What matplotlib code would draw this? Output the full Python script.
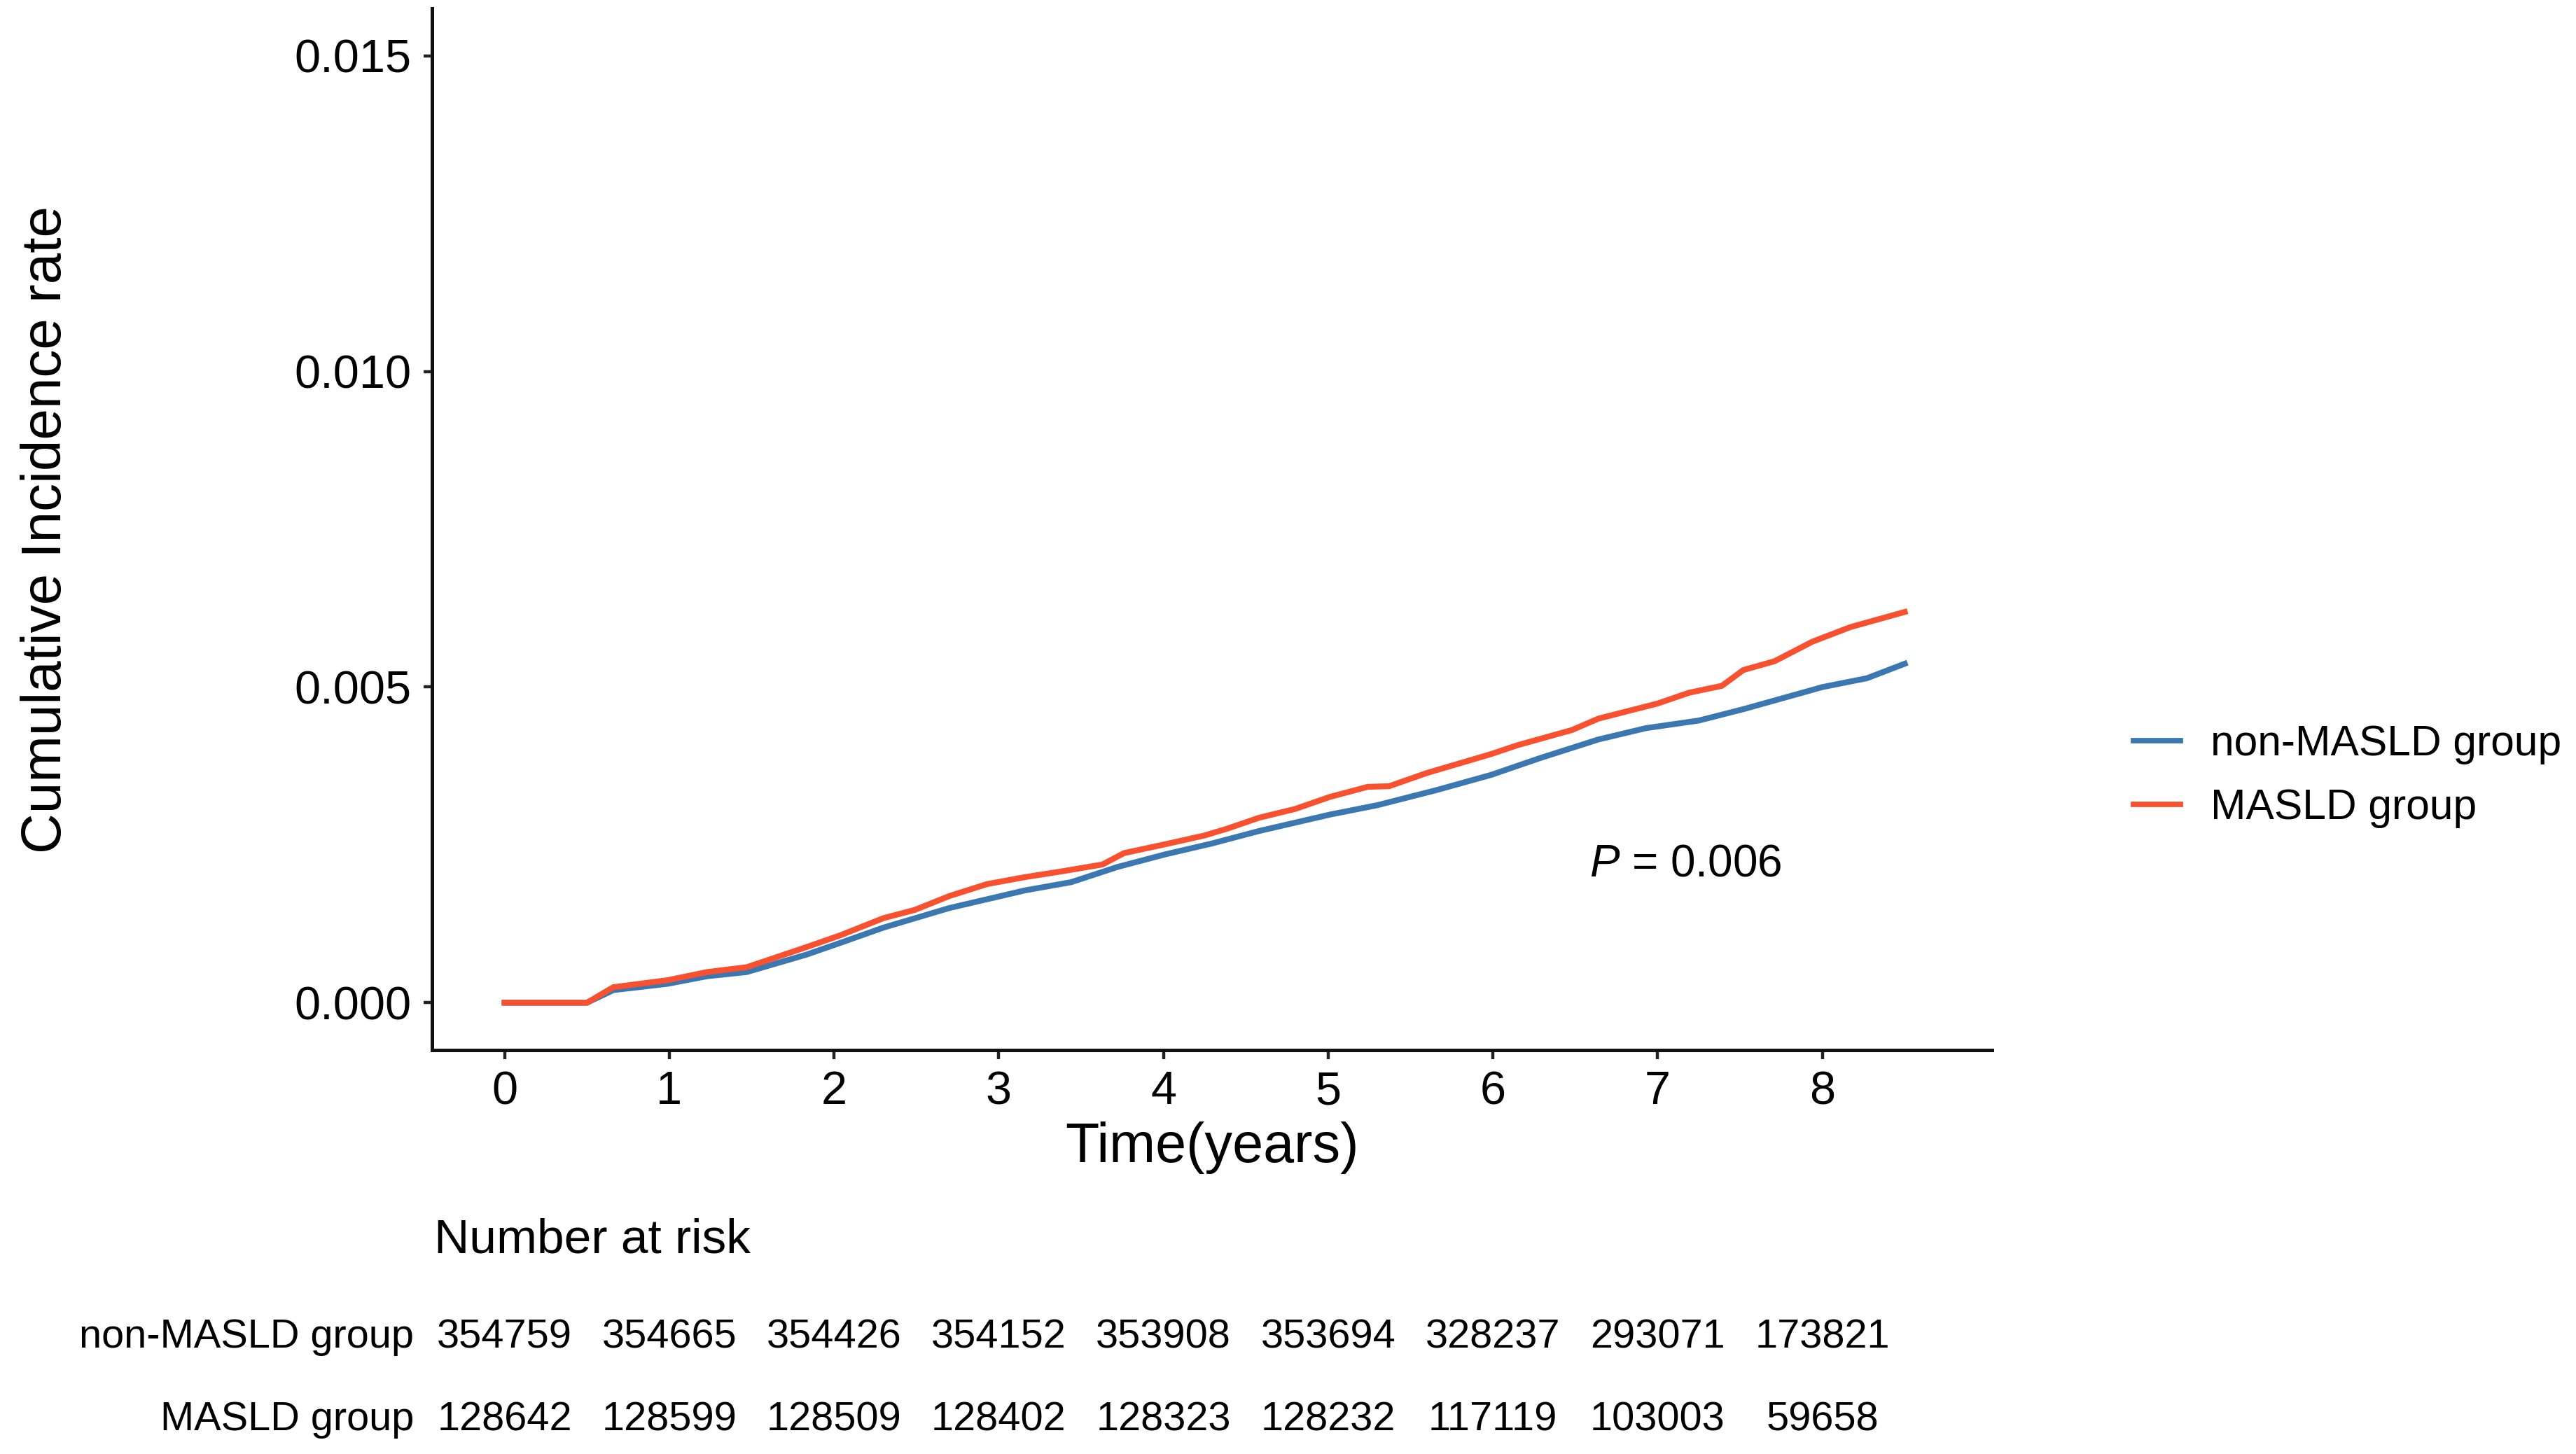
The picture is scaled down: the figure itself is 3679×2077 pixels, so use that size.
import matplotlib
matplotlib.use("Agg")
import matplotlib.pyplot as plt
from matplotlib.transforms import blended_transform_factory

plt.rcParams['font.family'] = ['Liberation Sans', 'DejaVu Sans']
plt.rcParams['mathtext.fontset'] = 'custom'
plt.rcParams['mathtext.it'] = 'Liberation Sans:italic'
plt.rcParams['mathtext.rm'] = 'Liberation Sans'

# curves
t_masld = [0, 0.5, 0.66, 0.99, 1.23, 1.47, 1.82, 2.04, 2.30, 2.49, 2.70, 2.93, 3.16, 3.38,
           3.63, 3.76, 4.01, 4.25, 4.39, 4.58, 4.80, 5.01, 5.24, 5.37, 5.60, 5.99, 6.15,
           6.48, 6.64, 7.00, 7.19, 7.39, 7.52, 7.71, 7.94, 8.17, 8.50]
v_masld = [0, 0, 0.000246, 0.000357, 0.000486, 0.000563, 0.00087, 0.00107, 0.00134, 0.00147,
           0.00169, 0.00188, 0.00199, 0.00208, 0.00219, 0.00237, 0.00251, 0.00265, 0.00276,
           0.00293, 0.00307, 0.00326, 0.00342, 0.00343, 0.00364, 0.00394, 0.00408, 0.00432,
           0.00450, 0.00474, 0.00491, 0.00502, 0.00527, 0.00541, 0.00572, 0.00595, 0.00619]

t_non = [0, 0.5, 0.66, 0.99, 1.23, 1.47, 1.83, 2.04, 2.30, 2.70, 3.16, 3.44, 3.72, 4.01,
         4.29, 4.58, 5.01, 5.30, 5.66, 5.99, 6.28, 6.64, 6.93, 7.25, 7.52, 7.74, 8.00,
         8.27, 8.50]
v_non = [0, 0, 0.00020, 0.00030, 0.00042, 0.000486, 0.00076, 0.00095, 0.00119, 0.00150,
         0.00178, 0.00191, 0.00215, 0.00235, 0.00252, 0.00272, 0.00298, 0.00313, 0.00337,
         0.00361, 0.00387, 0.00417, 0.00435, 0.00447, 0.00465, 0.00481, 0.00500, 0.00514,
         0.00537]

risk_times = [0, 1, 2, 3, 4, 5, 6, 7, 8]
risk_non = [354759, 354665, 354426, 354152, 353908, 353694, 328237, 293071, 173821]
risk_masld = [128642, 128599, 128509, 128402, 128323, 128232, 117119, 103003, 59658]

groups = ["non-MASLD group", "MASLD group"]
colors = ["#3B77B0", "#F9502F"]

fig = plt.figure(figsize=(18.4, 10.385), dpi=200)
ax = fig.add_axes([0.1677, 0.2778, 0.6054, 0.7164])

ax.plot(t_non, v_non, color=colors[0], lw=3.0, label=groups[0])
ax.plot(t_masld, v_masld, color=colors[1], lw=3.0, label=groups[1])

ax.set_xlim(-0.44, 9.03)
ax.set_ylim(-0.00075, 0.01575)
ax.set_xticks(range(0, 9))
ax.set_yticks([0, 0.005, 0.010, 0.015])
ax.set_yticklabels(["0.000", "0.005", "0.010", "0.015"])
ax.tick_params(labelsize=24, width=1.6, length=4.5, pad=6, color="#222222")
for s in ["top", "right"]:
    ax.spines[s].set_visible(False)
for s in ["left", "bottom"]:
    ax.spines[s].set_linewidth(1.8)
    ax.spines[s].set_color("#111111")

ax.set_xlabel("Time(years)", fontsize=28.5, labelpad=4)
ax.set_ylabel("Cumulative Incidence rate", fontsize=28.8, labelpad=114)

ax.text(7.17, 0.00219, r"$\it{P}$ = 0.006", fontsize=23, ha="center", va="center")

leg = ax.legend(loc="center left", bbox_to_anchor=(0.828, 0.466),
                bbox_transform=fig.transFigure, frameon=False, fontsize=21.8,
                handlelength=1.1, handletextpad=0.72, labelspacing=0.55,
                borderpad=0, borderaxespad=0)
for h in leg.get_lines():
    h.set_linewidth(2.8)

# number at risk table
tr = blended_transform_factory(ax.transData, fig.transFigure)
fig.text(0.1685, 1 - 1772 / 2077, "Number at risk", fontsize=25, ha="left", va="center")
row_y = [1 - 1910 / 2077, 1 - 2028 / 2077]
for name, counts, y in zip(groups, [risk_non, risk_masld], row_y):
    fig.text(591 / 3680, y, name, fontsize=20.8, ha="right", va="center")
    for t, n in zip(risk_times, counts):
        ax.text(t, y, str(n), transform=tr, fontsize=20.8, ha="center", va="center",
                clip_on=False)

plt.savefig("out.png", dpi=200)
plt.close("all")
